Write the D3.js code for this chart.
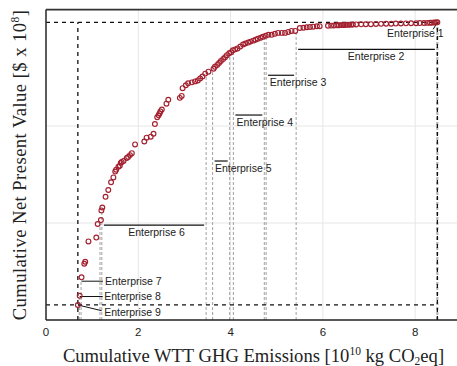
<!DOCTYPE html>
<html><head><meta charset="utf-8">
<script src="https://cdn.jsdelivr.net/npm/d3@7"></script>
<style>body{margin:0;background:#fff}svg{display:block}</style>
</head><body><svg id="c" width="457" height="366"></svg>
<script>
// ---- data (cumulative, sorted by abatement order) ----
const cumEmissions = [0.69,0.73,0.77,0.83,0.85,0.92,1.09,1.12,1.19,1.20,1.22,1.29,1.35,1.41,1.46,1.50,1.52,1.57,1.60,1.62,1.64,1.68,1.75,1.78,1.82,1.86,1.93,2.13,2.18,2.27,2.33,2.36,2.41,2.44,2.46,2.48,2.51,2.61,2.65,2.90,2.94,2.96,3.03,3.08,3.16,3.23,3.29,3.34,3.39,3.45,3.52,3.63,3.66,3.71,3.75,3.79,3.84,3.88,3.92,3.97,4.01,4.05,4.10,4.15,4.21,4.27,4.32,4.38,4.43,4.49,4.54,4.59,4.65,4.70,4.76,4.82,4.89,4.96,5.03,5.11,5.18,5.25,5.32,5.40,5.50,5.58,5.65,5.72,5.79,5.87,5.93,6.11,6.18,6.24,6.31,6.35,6.39,6.44,6.48,6.52,6.57,6.61,6.65,6.72,6.83,6.93,7.04,7.15,7.26,7.37,7.48,7.58,7.69,7.80,7.91,8.02,8.10,8.19,8.26,8.32,8.36,8.41,8.45,8.48];
const cumNPV = [0.155,0.25,0.44,0.58,0.60,0.81,0.85,0.99,1.03,1.13,1.16,1.27,1.34,1.42,1.47,1.53,1.55,1.58,1.59,1.62,1.63,1.64,1.67,1.68,1.70,1.72,1.81,1.84,1.88,1.89,1.92,2.02,2.09,2.11,2.13,2.15,2.17,2.23,2.27,2.29,2.31,2.39,2.42,2.44,2.45,2.46,2.47,2.49,2.51,2.54,2.56,2.59,2.61,2.63,2.65,2.67,2.69,2.71,2.73,2.75,2.76,2.78,2.79,2.80,2.82,2.84,2.85,2.86,2.87,2.88,2.89,2.90,2.91,2.92,2.93,2.94,2.94,2.95,2.96,2.96,2.96,2.97,2.98,2.98,3.010,3.013,3.018,3.021,3.024,3.028,3.029,3.033,3.035,3.036,3.038,3.039,3.040,3.041,3.042,3.043,3.044,3.045,3.046,3.047,3.048,3.049,3.050,3.052,3.053,3.054,3.055,3.056,3.057,3.058,3.059,3.060,3.061,3.062,3.063,3.064,3.065,3.066,3.067,3.069];
const xTicks = [0,2,4,6,8];
const yGrid = [1,2];
const boundaryX = [0.72,0.76,1.17,1.21,3.47,3.61,3.98,4.06,4.73,4.77,5.42,8.47,8.49];
const spanNames = ["Enterprise 2","Enterprise 3","Enterprise 4","Enterprise 5","Enterprise 6"];
const spanStart = [5.42,4.77,4.06,3.61,1.21];
const spanEnd   = [8.47,5.42,4.73,3.98,3.47];
const leaderNames = ["Enterprise 1","Enterprise 7","Enterprise 8","Enterprise 9"];
const leaderPoint = [cumEmissions.length-1, 2, 1, 0];

// ---- layout (annotation placement, in data units) ----
const spanLayout = [{lineY:2.79,textX:6.54},{lineY:2.523,textX:4.85},{lineY:2.113,textX:4.13},{lineY:1.639,textX:3.66},{lineY:0.979,textX:1.78}];
const leaderLayout = [{tx:7.39,ty:2.954,ex:8.39,ey:2.997,flat:false},{tx:1.28,ty:0.40,ex:1.235,ey:0.40,flat:true},{tx:1.26,ty:0.242,ex:1.23,ey:0.242,flat:true},{tx:1.26,ty:0.082,ex:1.207,ey:0.096,flat:false}];

const svg = d3.select("#c");
const x = d3.scaleLinear().domain([0,9]).range([46,46+9*46.15]);
const y = d3.scaleLinear().domain([0,3.2]).range([320,9.6]);
const pts = cumEmissions.map((e,i)=>({x:e,y:cumNPV[i]}));
const curveAt = v => { const xs=cumEmissions; if(v<=xs[0]) return cumNPV[0]; for(let i=1;i<xs.length;i++){ if(xs[i]>=v){const t=(v-xs[i-1])/(xs[i]-xs[i-1]||1); return cumNPV[i-1]+t*(cumNPV[i]-cumNPV[i-1]);} } return cumNPV[cumNPV.length-1]; };

// grid
svg.append("g").selectAll("line").data(xTicks.filter(d=>d>0)).join("line")
  .attr("x1",d=>x(d)).attr("x2",d=>x(d)).attr("y1",y(0)).attr("y2",y(3.2))
  .attr("stroke","#e6e6e6").attr("stroke-width",1);
svg.append("g").selectAll("line").data(yGrid).join("line")
  .attr("x1",x(0)).attr("x2",457).attr("y1",d=>y(d)).attr("y2",d=>y(d))
  .attr("stroke","#e6e6e6").attr("stroke-width",1);

// gray boundary lines
svg.append("g").selectAll("line").data(boundaryX).join("line")
  .attr("x1",d=>x(d)).attr("x2",d=>x(d)).attr("y1",y(0)).attr("y2",d=>y(curveAt(d)))
  .attr("stroke","#a0a0a0").attr("stroke-width",1).attr("stroke-dasharray","3,2");

// black dashed envelope
const xmin=d3.min(cumEmissions), xmax=d3.max(cumEmissions), ymin=d3.min(cumNPV), ymax=d3.max(cumNPV);
const env=[[0,ymax,xmax,ymax],[0,ymin,xmax,ymin],[xmin,0,xmin,ymax],[xmax,0,xmax,ymax]];
svg.append("g").selectAll("line").data(env).join("line")
  .attr("x1",d=>x(d[0])).attr("y1",d=>y(d[1])).attr("x2",d=>x(d[2])).attr("y2",d=>y(d[3]))
  .attr("stroke","#111").attr("stroke-width",1.3).attr("stroke-dasharray","4,4");

// axes frame
svg.append("line").attr("x1",x(0)).attr("x2",x(0)).attr("y1",y(3.2)).attr("y2",y(0)).attr("stroke","#333").attr("stroke-width",1.6);
svg.append("line").attr("x1",x(0)).attr("x2",457).attr("y1",y(0)).attr("y2",y(0)).attr("stroke","#222").attr("stroke-width",1.6);
svg.append("line").attr("x1",x(0)).attr("x2",457).attr("y1",y(3.2)).attr("y2",y(3.2)).attr("stroke","#333").attr("stroke-width",1.6);

// tick labels
svg.append("g").selectAll("text").data(xTicks).join("text")
  .attr("x",d=>x(d)).attr("y",336).attr("text-anchor","middle")
  .attr("font-family","Liberation Sans, Arial, sans-serif").attr("font-size",11.5).attr("fill","#222").text(d=>d);

// span annotations
const lab = "Liberation Sans, Arial, sans-serif";
spanNames.forEach((n,i)=>{
  const L=spanLayout[i];
  svg.append("line").attr("x1",x(spanStart[i])+2).attr("x2",x(spanEnd[i])-2).attr("y1",y(L.lineY)).attr("y2",y(L.lineY)).attr("stroke","#111").attr("stroke-width",1.2);
  svg.append("text").attr("x",x(L.textX)).attr("y",y(L.lineY)+11).attr("font-family",lab).attr("font-size",10.5).attr("fill","#222").text(n);
});
leaderNames.forEach((n,i)=>{
  const L=leaderLayout[i], p=pts[leaderPoint[i]];
  const sy = L.flat ? y(L.ty) : y(p.y);
  svg.append("line").attr("x1",x(p.x)).attr("y1",sy).attr("x2",x(L.ex)).attr("y2",y(L.ey)).attr("stroke","#111").attr("stroke-width",1);
  svg.append("text").attr("x",x(L.tx)).attr("y",y(L.ty)+3.8).attr("font-family",lab).attr("font-size",10.5).attr("fill","#222").text(n);
});

// points
svg.append("g").selectAll("circle").data(pts).join("circle")
  .attr("cx",d=>x(d.x)).attr("cy",d=>y(d.y)).attr("r",2.4)
  .attr("fill","none").attr("stroke","#a3202f").attr("stroke-width",1.15);

// axis titles
const serif="Liberation Serif, Times New Roman, serif";
const xt=svg.append("text").attr("x",253.5).attr("y",361.5).attr("text-anchor","middle").attr("font-family",serif).attr("font-size",18.6).attr("fill","#222");
xt.append("tspan").text("Cumulative WTT GHG Emissions [10");
xt.append("tspan").attr("font-size",11.5).attr("dy",-7).text("10");
xt.append("tspan").attr("dy",7).text(" kg CO");
xt.append("tspan").attr("font-size",11.5).attr("dy",3).text("2");
xt.append("tspan").attr("dy",-3).text("eq]");
const yt=svg.append("text").attr("transform","translate(26,165) rotate(-90)").attr("text-anchor","middle").attr("font-family",serif).attr("font-size",18.6).attr("letter-spacing",0.45).attr("fill","#222");
yt.append("tspan").text("Cumulative Net Present Value [$ x 10");
yt.append("tspan").attr("font-size",11.5).attr("dy",-7).text("8");
yt.append("tspan").attr("dy",7).text("]");
</script></body></html>
